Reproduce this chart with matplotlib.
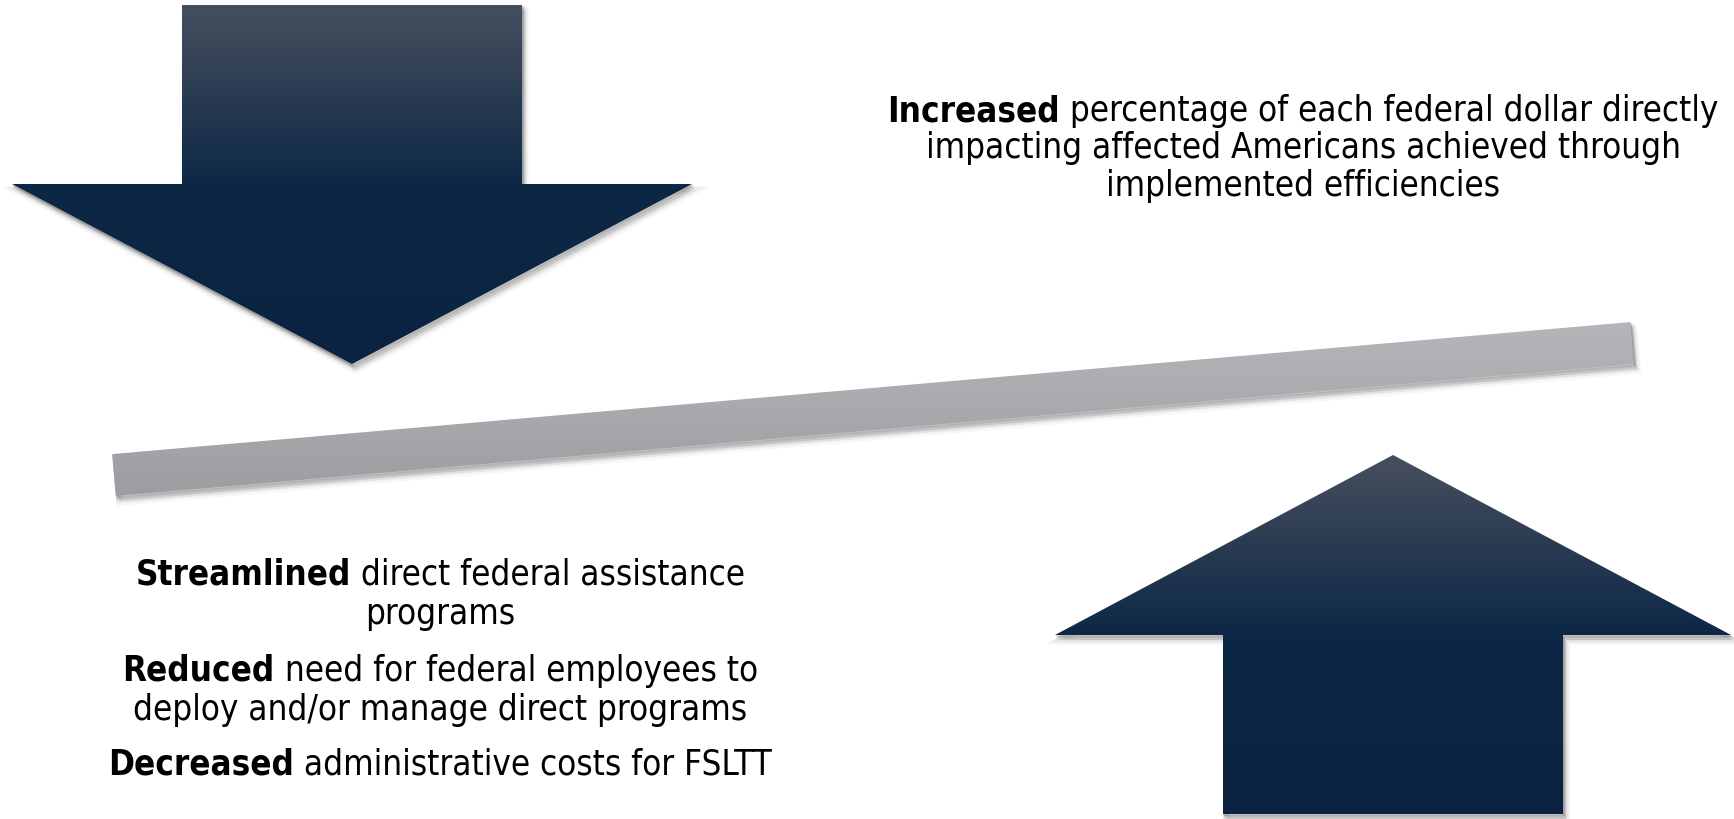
import matplotlib
matplotlib.use("Agg")
import matplotlib.pyplot as plt
import numpy as np
from matplotlib import font_manager
from matplotlib.colors import LinearSegmentedColormap
from matplotlib.patches import Polygon

W, H = 1734, 820

# arrow geometry: (centre x, tip y, head base y, end y, head half width, shaft half width)
down_arrow = (352, 365, 185, 6, 340, 170)
up_arrow = (1393, 456, 636, 815, 338, 170)
arrow_colors = ["#474f5e", "#0d2846", "#0b2341"]

# bar: left centre, right centre, thickness
bar_left = (114, 476)
bar_right = (1632, 344)
bar_thickness = 42
bar_colors = ["#b5b6ba", "#9c9da1"]

top_lines = [("Increased", " percentage of each federal dollar directly"),
             ("", "impacting affected Americans achieved through"),
             ("", "implemented efficiencies")]
top_x = 1303
top_y = [111, 148, 186]

bottom_lines = [("Streamlined", " direct federal assistance"),
                ("", "programs"),
                ("Reduced", " need for federal employees to"),
                ("", "deploy and/or manage direct programs"),
                ("Decreased", " administrative costs for FSLTT")]
bottom_x = 440
bottom_y = [575, 614, 671, 710, 765]

FONT = ["DejaVu Sans"]
cond = font_manager.findfont(font_manager.FontProperties(family="DejaVu Sans", stretch="condensed"))
STRETCH = "condensed" if "Condensed" in cond else "normal"
FS = 25 if STRETCH == "condensed" else 22.6


def arrow_verts(cx, tip, base, end, hw, sw):
    return np.array([[cx, tip], [cx - hw, base], [cx - sw, base], [cx - sw, end],
                     [cx + sw, end], [cx + sw, base], [cx + hw, base]])


def bar_verts(p0, p1, t):
    p0, p1 = np.array(p0, float), np.array(p1, float)
    d = (p1 - p0) / np.linalg.norm(p1 - p0)
    n = np.array([-d[1], d[0]]) * t / 2
    return np.array([p0 - n, p1 - n, p1 + n, p0 + n])


def shadow(ax, verts, dx=3, dy=5):
    for k, a in zip(range(1, 5), [0.10, 0.07, 0.05, 0.03]):
        ax.add_patch(Polygon(verts + [dx * k / 3, dy * k / 3], closed=True,
                             facecolor="black", edgecolor="black", alpha=a,
                             lw=k * 1.2, zorder=1))


def gradient_poly(ax, verts, colors, stops=None):
    poly = Polygon(verts, closed=True, facecolor="none", edgecolor="none", zorder=2)
    ax.add_patch(poly)
    if stops is None:
        cmap = LinearSegmentedColormap.from_list("g", colors)
    else:
        cmap = LinearSegmentedColormap.from_list("g", list(zip(stops, colors)))
    x0, x1 = verts[:, 0].min(), verts[:, 0].max()
    y0, y1 = verts[:, 1].min(), verts[:, 1].max()
    grad = np.linspace(0, 1, 256).reshape(-1, 1)
    im = ax.imshow(grad, cmap=cmap, extent=(x0, x1, y1, y0), origin="upper",
                   aspect="auto", zorder=2, interpolation="bilinear")
    im.set_clip_path(poly)


def mixed_line(ax, fig, x, y, bold, regular):
    r = fig.canvas.get_renderer()
    kw = dict(fontsize=FS, family=FONT, fontstretch=STRETCH, ha="left",
              va="center", color="black")
    tb = ax.text(0, y, bold, fontweight="bold", **kw)
    tr = ax.text(0, y, regular, **kw)
    wb = tb.get_window_extent(r).width if bold else 0
    wr = tr.get_window_extent(r).width
    left = x - (wb + wr) / 2
    tb.set_x(left)
    tr.set_x(left + wb)


fig = plt.figure(figsize=(W / 100, H / 100), dpi=100)
ax = fig.add_axes([0, 0, 1, 1])
ax.axis("off")

dv = arrow_verts(*down_arrow)
uv = arrow_verts(*up_arrow)
bv = bar_verts(bar_left, bar_right, bar_thickness)

shadow(ax, bv)
gradient_poly(ax, bv, bar_colors)
shadow(ax, dv)
gradient_poly(ax, dv, arrow_colors, [0, 0.5, 1])
shadow(ax, uv)
gradient_poly(ax, uv, arrow_colors, [0, 0.5, 1])

ax.set_xlim(0, W)
ax.set_ylim(H, 0)

for (b, rtxt), y in zip(top_lines, top_y):
    mixed_line(ax, fig, top_x, y, b, rtxt)
for (b, rtxt), y in zip(bottom_lines, bottom_y):
    mixed_line(ax, fig, bottom_x, y, b, rtxt)

fig.savefig("out.png", dpi=100, facecolor="white")
